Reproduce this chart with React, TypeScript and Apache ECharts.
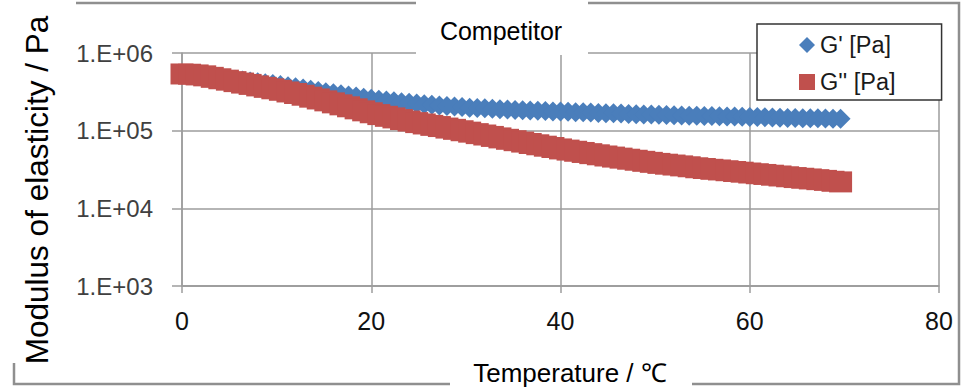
import React, { useEffect, useRef } from 'react';
import * as echarts from 'echarts';

// Temperature (°C) of each measured point
const TEMPS = [
  0, 0.8, 1.6, 2.4, 3.2, 4.0, 4.8, 5.6, 6.4, 7.2, 8.0, 8.8, 9.6, 10.4, 11.2, 12.0,
  12.8, 13.6, 14.4, 15.2, 16.0, 16.8, 17.6, 18.4, 19.2, 20.0, 20.8, 21.6, 22.4, 23.2,
  24.0, 24.8, 25.6, 26.4, 27.2, 28.0, 28.8, 29.6, 30.4, 31.2, 32.0, 32.8, 33.6, 34.4,
  35.2, 36.0, 36.8, 37.6, 38.4, 39.2, 40.0, 40.8, 41.6, 42.4, 43.2, 44.0, 44.8, 45.6,
  46.4, 47.2, 48.0, 48.8, 49.6, 50.4, 51.2, 52.0, 52.8, 53.6, 54.4, 55.2, 56.0, 56.8,
  57.6, 58.4, 59.2, 60.0, 60.8, 61.6, 62.4, 63.2, 64.0, 64.8, 65.6, 66.4, 67.2, 68.0,
  68.8, 69.6,
];

// G' [Pa] (storage modulus)
const G_PRIME = [
  537000, 525000, 512000, 499000, 488000, 475000, 463000, 454000, 442000, 431000,
  420000, 409000, 399000, 386000, 373000, 361000, 348000, 337000, 324000, 313000,
  303000, 294000, 284000, 275000, 265000, 257000, 251000, 245000, 239000, 233000,
  228000, 223000, 219000, 215000, 211000, 208000, 205000, 201000, 198000, 196000,
  194000, 191000, 189000, 187000, 185000, 183000, 182000, 180000, 179000, 177000,
  176000, 175000, 173000, 172000, 171000, 169000, 168000, 167000, 166000, 164000,
  163000, 162000, 161000, 160000, 159000, 158000, 157000, 156000, 156000, 155000,
  154000, 153000, 152000, 152000, 151000, 150000, 150000, 149000, 148000, 147000,
  146000, 146000, 145000, 144000, 144000, 143000, 142000, 142000,
];

// G'' [Pa] (loss modulus)
const G_DOUBLE = [
  537000, 533000, 522000, 508000, 486000, 466000, 447000, 428000, 410000, 394000,
  377000, 361000, 346000, 331000, 315000, 301000, 286000, 270000, 256000, 242000,
  228000, 215000, 203000, 191000, 180000, 170000, 161000, 153000, 146000, 139000,
  133000, 127000, 122000, 117000, 113000, 108000, 104000, 99800, 95700, 91600,
  87900, 84300, 80700, 77400, 74300, 71300, 68400, 65800, 63100, 60700,
  58200, 56200, 54300, 52400, 50600, 48900, 47200, 45700, 44300, 42900,
  41600, 40300, 39100, 37900, 37000, 36100, 35200, 34300, 33300, 32600,
  31800, 31200, 30500, 29800, 29200, 28500, 27900, 27300, 26700, 26100,
  25500, 24900, 24400, 23900, 23400, 22900, 22300, 21900,
];

const SERIES_NAMES = ["G' [Pa]", "G'' [Pa]"];
const Y_TICK_LABELS = ['1.E+03', '1.E+04', '1.E+05', '1.E+06'];
const X_MIN = 0;
const X_MAX = 80;
const X_INTERVAL = 20;
const Y_MIN = 1000;
const Y_MAX = 1000000;

const TITLE = 'Competitor';
const X_TITLE = 'Temperature / ℃';
const Y_TITLE = 'Modulus of elasticity / Pa';

const FONT = "'Liberation Sans', Arial, sans-serif";

export default function App() {
  const ref = useRef<HTMLDivElement>(null);

  useEffect(() => {
    if (!ref.current) return;
    const chart = echarts.init(ref.current, null, { renderer: 'svg', width: 969, height: 390 });
    const grid = '#9d9d9d';

    const option: any = {
      animation: false,
      backgroundColor: '#ffffff',
      grid: { left: 182, right: 30, top: 53, bottom: 104, containLabel: false },
      xAxis: {
        type: 'value',
        min: X_MIN,
        max: X_MAX,
        interval: X_INTERVAL,
        axisLine: { show: true, lineStyle: { color: grid, width: 1.5 } },
        axisTick: { show: true, length: 7, lineStyle: { color: grid, width: 1.5 } },
        splitLine: { show: true, lineStyle: { color: grid, width: 1.5 } },
        axisLabel: { fontSize: 25, color: '#111111', fontFamily: FONT, margin: 22 },
      },
      yAxis: {
        type: 'log',
        logBase: 10,
        min: Y_MIN,
        max: Y_MAX,
        axisLine: { show: true, lineStyle: { color: grid, width: 1.5 } },
        axisTick: { show: true, length: 10, lineStyle: { color: grid, width: 1.5 } },
        splitLine: { show: true, lineStyle: { color: grid, width: 1.5 } },
        axisLabel: {
          fontSize: 24,
          color: '#404040',
          fontFamily: FONT,
          margin: 29,
          formatter: (v: number) => {
            const idx = Math.round(Math.log10(v)) - 3;
            return Y_TICK_LABELS[idx] ?? '';
          },
        },
      },
      legend: {
        orient: 'vertical',
        left: 757,
        top: 24,
        padding: [9, 46, 6, 42],
        backgroundColor: '#ffffff',
        borderColor: '#333333',
        borderWidth: 1.5,
        itemWidth: 16,
        itemHeight: 16,
        itemGap: 13,
        z: 20,
        textStyle: { fontSize: 23.5, color: '#1a1a1a', fontFamily: FONT, lineHeight: 24 },
        data: [
          { name: SERIES_NAMES[0], icon: 'diamond' },
          { name: SERIES_NAMES[1], icon: 'rect' },
        ],
      },
      series: [
        {
          name: SERIES_NAMES[0],
          type: 'scatter',
          symbol: 'diamond',
          symbolSize: [20, 20],
          itemStyle: { color: '#4a7ebb', opacity: 1 },
          data: TEMPS.map((t, i) => [t, G_PRIME[i]]),
        },
        {
          name: SERIES_NAMES[1],
          type: 'scatter',
          symbol: 'rect',
          symbolSize: [23, 21],
          itemStyle: { color: '#c0504d', opacity: 1 },
          data: TEMPS.map((t, i) => [t, G_DOUBLE[i]]),
        },
      ],
      graphic: {
        elements: [
          {
            type: 'rect',
            z: 100,
            shape: { x: 14, y: 3, width: 945, height: 381 },
            style: { fill: 'none', stroke: '#8f8f8f', lineWidth: 2.5 },
          },
          { type: 'rect', z: 101, shape: { x: 0, y: 0, width: 76, height: 363 }, style: { fill: '#ffffff' } },
          { type: 'rect', z: 101, shape: { x: 416, y: 0, width: 172, height: 55 }, style: { fill: '#ffffff' } },
          { type: 'rect', z: 101, shape: { x: 450, y: 356, width: 242, height: 34 }, style: { fill: '#ffffff' } },
          {
            type: 'text',
            z: 102,
            x: 37,
            y: 190,
            rotation: Math.PI / 2,
            style: {
              text: Y_TITLE,
              fontSize: 31.5,
              fontFamily: FONT,
              fill: '#000000',
              align: 'center',
              verticalAlign: 'middle',
              textAlign: 'center',
              textVerticalAlign: 'middle',
            },
          },
          {
            type: 'text',
            z: 102,
            x: 501,
            y: 31,
            style: {
              text: TITLE,
              fontSize: 25,
              fontFamily: FONT,
              fill: '#000000',
              align: 'center',
              verticalAlign: 'middle',
              textAlign: 'center',
              textVerticalAlign: 'middle',
            },
          },
          {
            type: 'text',
            z: 102,
            x: 570,
            y: 373,
            style: {
              text: X_TITLE,
              fontSize: 26,
              fontFamily: FONT,
              fill: '#000000',
              align: 'center',
              verticalAlign: 'middle',
              textAlign: 'center',
              textVerticalAlign: 'middle',
            },
          },
        ],
      },
    };

    chart.setOption(option);
    return () => {
      chart.dispose();
    };
  }, []);

  return (
    <div
      ref={ref}
      style={{ position: 'fixed', left: 0, top: 0, width: 969, height: 390, background: '#ffffff' }}
    />
  );
}
